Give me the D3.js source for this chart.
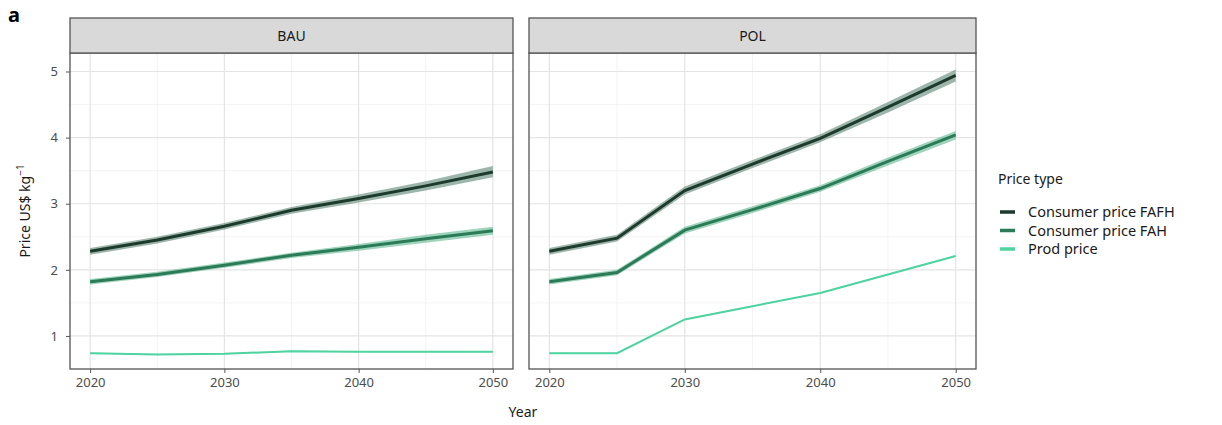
<!DOCTYPE html>
<html lang="en">
<head>
  <meta charset="UTF-8">
  <title>Price type</title>
  <style>
    * { padding: 0; margin: 0; }
    html, body { width: 100%; height: 100%; background: #fff; }
    svg { display: block; font-family: "Noto Sans", "Open Sans", sans-serif; }
  </style>
</head>
<body>
  <svg id="svg"></svg>
  <script src="https://cdnjs.cloudflare.com/ajax/libs/d3/7.8.5/d3.min.js"></script>
  <script>
    const years = [2020, 2025, 2030, 2035, 2040, 2045, 2050]
    const scenarios = ['BAU', 'POL']
    const priceTypes = ['Consumer price FAFH', 'Consumer price FAH', 'Prod price']
    const xTicks = [2020, 2030, 2040, 2050]
    const yTicks = [1, 2, 3, 4, 5]

    // BAU
    const bauFafh = [2.28, 2.45, 2.66, 2.90, 3.08, 3.27, 3.48]
    const bauFafhLo = [2.23, 2.40, 2.61, 2.85, 3.02, 3.20, 3.40]
    const bauFafhHi = [2.33, 2.50, 2.71, 2.95, 3.14, 3.34, 3.57]
    const bauFah = [1.82, 1.93, 2.07, 2.22, 2.34, 2.47, 2.59]
    const bauFahLo = [1.78, 1.89, 2.03, 2.18, 2.29, 2.41, 2.53]
    const bauFahHi = [1.86, 1.97, 2.11, 2.26, 2.39, 2.53, 2.65]
    const bauProd = [0.74, 0.72, 0.73, 0.77, 0.76, 0.76, 0.76]
    const bauProdLo = [0.73, 0.71, 0.72, 0.76, 0.75, 0.75, 0.75]
    const bauProdHi = [0.75, 0.73, 0.74, 0.78, 0.77, 0.77, 0.77]

    // POL
    const polFafh = [2.28, 2.48, 3.20, 3.60, 3.99, 4.46, 4.94]
    const polFafhLo = [2.23, 2.43, 3.14, 3.54, 3.93, 4.38, 4.85]
    const polFafhHi = [2.33, 2.53, 3.26, 3.66, 4.05, 4.54, 5.03]
    const polFah = [1.82, 1.96, 2.60, 2.91, 3.23, 3.64, 4.04]
    const polFahLo = [1.78, 1.92, 2.55, 2.86, 3.18, 3.58, 3.97]
    const polFahHi = [1.86, 2.00, 2.65, 2.96, 3.28, 3.70, 4.10]
    const polProd = [0.74, 0.74, 1.25, 1.45, 1.65, 1.93, 2.21]
    const polProdLo = [0.73, 0.73, 1.24, 1.44, 1.64, 1.92, 2.20]
    const polProdHi = [0.75, 0.75, 1.26, 1.46, 1.66, 1.94, 2.22]

    const lineColors = ['#1d3a2d', '#2c7b58', '#4fd3a0']
    const ribbonColors = ['#4d7a66', '#4fae85', '#8de3c2']

    const series = {
      BAU: [
        { mid: bauFafh, lo: bauFafhLo, hi: bauFafhHi },
        { mid: bauFah, lo: bauFahLo, hi: bauFahHi },
        { mid: bauProd, lo: bauProdLo, hi: bauProdHi }
      ],
      POL: [
        { mid: polFafh, lo: polFafhLo, hi: polFafhHi },
        { mid: polFah, lo: polFahLo, hi: polFahHi },
        { mid: polProd, lo: polProdLo, hi: polProdHi }
      ]
    }

    const dimension = { width: 1222, height: 425 }
    const panels = [{ left: 70, right: 513 }, { left: 529, right: 976 }]
    const plotTop = 53, plotBottom = 369, stripTop = 18

    const svg = d3.select('#svg')
      .attr('width', dimension.width)
      .attr('height', dimension.height)

    const y = d3.scaleLinear().domain([0.5, 5.28]).range([plotBottom, plotTop])
    const yMinor = d3.range(0.5, 5.3, 1)

    scenarios.forEach((sc, i) => {
      const p = panels[i]
      const x = d3.scaleLinear().domain([2018.5, 2051.5]).range([p.left, p.right])
      const g = svg.append('g')

      // minor grid
      g.selectAll('.vminor').data([2025, 2035, 2045]).join('line')
        .attr('x1', d => x(d)).attr('x2', d => x(d))
        .attr('y1', plotTop).attr('y2', plotBottom)
        .attr('stroke', '#f0f0f0').attr('stroke-width', 0.8)
      g.selectAll('.hminor').data(yMinor).join('line')
        .attr('x1', p.left).attr('x2', p.right)
        .attr('y1', d => y(d)).attr('y2', d => y(d))
        .attr('stroke', '#f0f0f0').attr('stroke-width', 0.8)
      // major grid
      g.selectAll('.vmajor').data(xTicks).join('line')
        .attr('x1', d => x(d)).attr('x2', d => x(d))
        .attr('y1', plotTop).attr('y2', plotBottom)
        .attr('stroke', '#e4e4e4').attr('stroke-width', 1.2)
      g.selectAll('.hmajor').data(yTicks).join('line')
        .attr('x1', p.left).attr('x2', p.right)
        .attr('y1', d => y(d)).attr('y2', d => y(d))
        .attr('stroke', '#e4e4e4').attr('stroke-width', 1.2)

      // ribbons + lines
      series[sc].forEach((s, k) => {
        const rows = years.map((yr, j) => ({ yr, mid: s.mid[j], lo: s.lo[j], hi: s.hi[j] }))
        g.append('path').datum(rows)
          .attr('fill', ribbonColors[k]).attr('opacity', 0.55)
          .attr('d', d3.area().x(d => x(d.yr)).y0(d => y(d.lo)).y1(d => y(d.hi)))
        g.append('path').datum(rows)
          .attr('fill', 'none').attr('stroke', lineColors[k])
          .attr('stroke-width', k === 2 ? 2 : 3)
          .attr('d', d3.line().x(d => x(d.yr)).y(d => y(d.mid)))
      })

      // panel border
      g.append('rect')
        .attr('x', p.left).attr('y', plotTop)
        .attr('width', p.right - p.left).attr('height', plotBottom - plotTop)
        .attr('fill', 'none').attr('stroke', '#555').attr('stroke-width', 1.3)

      // strip
      g.append('rect')
        .attr('x', p.left).attr('y', stripTop)
        .attr('width', p.right - p.left).attr('height', plotTop - stripTop)
        .attr('fill', '#d9d9d9').attr('stroke', '#555').attr('stroke-width', 1.3)
      g.append('text')
        .attr('x', (p.left + p.right) / 2).attr('y', (stripTop + plotTop) / 2 + 5)
        .attr('text-anchor', 'middle').attr('font-size', 14).attr('fill', '#1a1a1a')
        .text(sc)

      // x axis
      const xAxis = g.append('g')
        .attr('transform', `translate(0,${plotBottom})`)
        .call(d3.axisBottom(x).tickValues(xTicks).tickFormat(d3.format('d')).tickSize(4).tickPadding(5))
      xAxis.select('.domain').remove()
      xAxis.selectAll('line').attr('stroke', '#555')
      xAxis.selectAll('text').attr('font-size', 13).attr('fill', '#4d4d4d')
        .style('font-family', '"Noto Sans", sans-serif')

      if (i === 0) {
        const yAxis = g.append('g')
          .attr('transform', `translate(${p.left},0)`)
          .call(d3.axisLeft(y).tickValues(yTicks).tickFormat(d3.format('d')).tickSize(4).tickPadding(8))
        yAxis.select('.domain').remove()
        yAxis.selectAll('line').attr('stroke', '#555')
        yAxis.selectAll('text').attr('font-size', 13).attr('fill', '#4d4d4d')
          .style('font-family', '"Noto Sans", sans-serif')
      }
    })

    // axis titles
    svg.append('text')
      .attr('x', (panels[0].left + panels[1].right) / 2).attr('y', 417)
      .attr('text-anchor', 'middle').attr('font-size', 14).attr('fill', '#1a1a1a')
      .text('Year')

    const yTitle = svg.append('text')
      .attr('transform', `translate(30,${(plotTop + plotBottom) / 2}) rotate(-90)`)
      .attr('text-anchor', 'middle').attr('font-size', 14).attr('fill', '#1a1a1a')
    yTitle.append('tspan').text('Price US$ kg')
    yTitle.append('tspan').attr('dy', -6).attr('font-size', 10).text('−1')

    // panel letter
    svg.append('text')
      .attr('x', 8).attr('y', 22)
      .attr('font-size', 20).attr('font-weight', 'bold').attr('fill', '#000')
      .text('a')

    // legend
    const legend = svg.append('g').attr('transform', 'translate(998,0)')
    legend.append('text')
      .attr('x', 0).attr('y', 184)
      .attr('font-size', 14).attr('fill', '#1a1a1a')
      .text('Price type')
    priceTypes.forEach((t, k) => {
      const cy = 212 + k * 18.5
      legend.append('line')
        .attr('x1', 2).attr('x2', 17).attr('y1', cy).attr('y2', cy)
        .attr('stroke', lineColors[k]).attr('stroke-width', 3.5)
      legend.append('text')
        .attr('x', 30).attr('y', cy + 5)
        .attr('font-size', 14.5).attr('fill', '#1a1a1a')
        .text(t)
    })
  </script>
</body>
</html>
